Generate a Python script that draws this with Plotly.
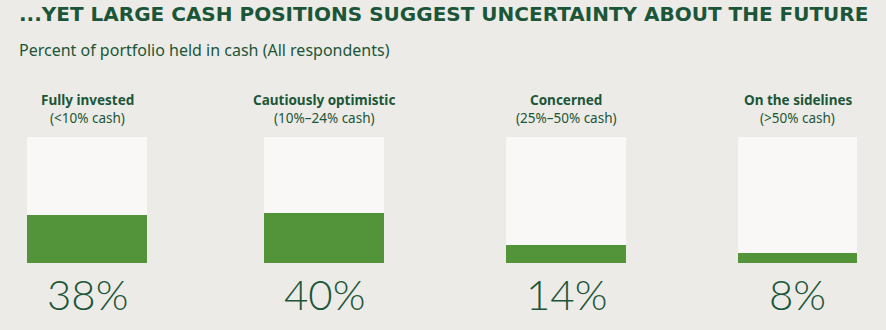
import plotly.graph_objects as go

# ---- data ----
categories = ["Fully invested", "Cautiously optimistic", "Concerned", "On the sidelines"]
ranges = ["(<10% cash)", "(10%–24% cash)", "(25%–50% cash)", "(>50% cash)"]
values = [38, 40, 14, 8]
full_scale = 100

title = "...YET LARGE CASH POSITIONS SUGGEST UNCERTAINTY ABOUT THE FUTURE"
subtitle = "Percent of portfolio held in cash (All respondents)"

# ---- style ----
W, H = 886, 330
BG = "#EDEBE7"
BOX = "#F9F8F6"
GREEN = "#53943A"
TEXT = "#1B5638"
box_px = [(27, 147), (264, 384), (506, 626), (738, 857)]
box_top, box_bottom = 137, 263

fig = go.Figure()
for i, (cat, v) in enumerate(zip(categories, values)):
    n = "" if i == 0 else str(i + 1)
    fig.add_trace(go.Bar(x=[cat], y=[full_scale], marker=dict(color=BOX, line=dict(width=0)),
                         xaxis="x" + n, yaxis="y" + n, hoverinfo="skip", showlegend=False))
    fig.add_trace(go.Bar(x=[cat], y=[v], marker=dict(color=GREEN, line=dict(width=0)),
                         xaxis="x" + n, yaxis="y" + n, showlegend=False,
                         hovertemplate="%{x}: %{y}%<extra></extra>"))
    x0, x1 = box_px[i]
    ax = dict(domain=[x0 / W, x1 / W], visible=False, fixedrange=True)
    ay = dict(domain=[(H - box_bottom) / H, (H - box_top) / H], range=[0, full_scale],
              visible=False, fixedrange=True)
    if i > 0:
        ax["anchor"] = "y" + n
        ay["anchor"] = "x" + n
    fig.update_layout(**{"xaxis" + n: ax, "yaxis" + n: ay})

    xc = (x0 + x1) / 2 / W
    fig.add_annotation(x=xc, y=(H - 100) / H, xref="paper", yref="paper",
                       text="<b>" + cat + "</b>", showarrow=False,
                       font=dict(family="Noto Sans", size=13.5, color=TEXT), xanchor="center", yanchor="middle")
    fig.add_annotation(x=xc, y=(H - 117.5) / H, xref="paper", yref="paper",
                       text=ranges[i], showarrow=False,
                       font=dict(family="Noto Sans", size=13.5, color=TEXT), xanchor="center", yanchor="middle")
    fig.add_annotation(x=xc, y=(H - 294) / H, xref="paper", yref="paper",
                       text=f"{v}%", showarrow=False,
                       font=dict(family="Lato", size=42, color=TEXT, weight=300),
                       xanchor="center", yanchor="middle")

fig.add_annotation(x=17 / W, y=(H - 14) / H, xref="paper", yref="paper", text="<b>" + title + "</b>",
                   showarrow=False, xanchor="left", yanchor="middle",
                   font=dict(family="DejaVu Sans", size=20, color=TEXT))
fig.add_annotation(x=17 / W, y=(H - 50) / H, xref="paper", yref="paper", text=subtitle,
                   showarrow=False, xanchor="left", yanchor="middle",
                   font=dict(family="Noto Sans", size=16, color=TEXT))

fig.update_layout(width=W, height=H, margin=dict(l=0, r=0, t=0, b=0),
                  paper_bgcolor=BG, plot_bgcolor=BG, barmode="overlay", bargap=0)

fig.write_html("out.html", config={"displayModeBar": False})
